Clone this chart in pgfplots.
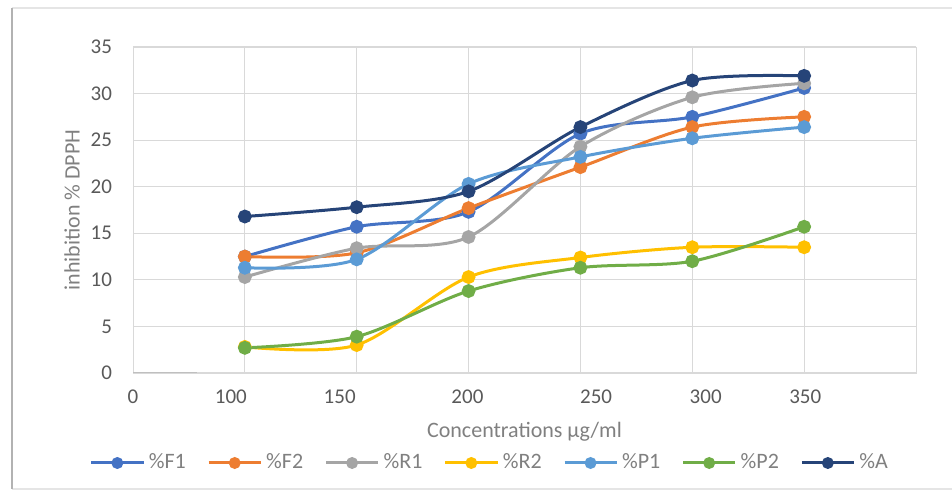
\documentclass[border=0pt]{standalone}
\usepackage{pgfplots}
\pgfplotsset{compat=1.18}
\usepackage{fontspec}
\setmainfont{Carlito}
\definecolor{cF1}{HTML}{4472C4}
\definecolor{cF2}{HTML}{ED7D31}
\definecolor{cR1}{HTML}{A5A5A5}
\definecolor{cR2}{HTML}{FFC000}
\definecolor{cP1}{HTML}{5B9BD5}
\definecolor{cP2}{HTML}{70AD47}
\definecolor{cA}{HTML}{264478}
\definecolor{gridc}{HTML}{D9D9D9}
\definecolor{tickc}{HTML}{595959}
\definecolor{labc}{HTML}{808080}
\begin{document}
\begin{tikzpicture}[x=1pt,y=1pt]
\useasboundingbox (0,0) rectangle (476,245.5);
% chart frame
\draw[color=black!10, line width=0.6pt] (6,1) -- (476,1);
\draw[color=black!10, line width=0.6pt] (6,241.5) -- (476,241.5);
\draw[color=black!30, line width=1.2pt] (6,1) -- (6,241.5);
\begin{axis}[
  at={(66.5pt,59pt)}, anchor=south west,
  width=391.5pt, height=163pt, scale only axis,
  xmin=0, xmax=7, ymin=0, ymax=35,
  axis line style={gridc},
  ytick={0,5,...,35},
  ymajorgrids, grid style={gridc, line width=0.6pt},
  xtick={0,0.875,1.848,2.99,4.14,5.12,6.01},
  xticklabels={0,100,150,200,250,300,350},
  extra x ticks={1,2,3,4,5,6},
  extra x tick labels={},
  extra x tick style={xmajorgrids=true, major tick length=0pt},
  major tick length=0pt,
  tick style={draw=none},
  /pgf/number format/assume math mode=true,
  ticklabel style={font=\fontsize{10.5}{12}\selectfont, text=tickc},
  xticklabel style={anchor=center, yshift=-12pt},
  yticklabel style={anchor=east, xshift=-7pt},
  xlabel={Concentrations µg/ml},
  ylabel={inhibition \% DPPH},
  label style={font=\fontsize{11}{13}\selectfont, text=labc},
  xlabel style={at={(axis description cs:0.5,0)}, anchor=center, yshift=-29.5pt},
  ylabel style={at={(axis description cs:0,0.5)}, anchor=center, rotate=0, yshift=30.5pt},
  legend columns=7,
  legend style={at={(axis description cs:0.457,0)}, anchor=center, yshift=-45pt,
    draw=none, fill=none, font=\fontsize{11}{13}\selectfont, text=labc,
    /tikz/every even column/.append style={column sep=8.7pt}},
  legend image code/.code={\draw[#1, mark size=2.2pt, mark repeat=2, mark phase=2] plot coordinates {(0pt,0pt) (13pt,0pt) (26pt,0pt)};},
  every axis plot/.append style={line width=1.5pt, smooth, tension=0.5, mark=*, mark size=2.7pt},
]
\addplot[cF1, mark options={fill=cF1, draw=cF1}] coordinates {(1,12.5) (2,15.7) (3,17.3) (4,25.7) (5,27.5) (6,30.6)};
\addlegendentry{\%F1}
\addplot[cF2, mark options={fill=cF2, draw=cF2}] coordinates {(1,12.5) (2,12.9) (3,17.7) (4,22.1) (5,26.4) (6,27.5)};
\addlegendentry{\%F2}
\addplot[cR1, mark options={fill=cR1, draw=cR1}] coordinates {(1,10.3) (2,13.4) (3,14.6) (4,24.3) (5,29.6) (6,31.1)};
\addlegendentry{\%R1}
\addplot[cR2, mark options={fill=cR2, draw=cR2}] coordinates {(1,2.8) (2,3.0) (3,10.3) (4,12.4) (5,13.5) (6,13.5)};
\addlegendentry{\%R2}
\addplot[cP1, mark options={fill=cP1, draw=cP1}] coordinates {(1,11.3) (2,12.2) (3,20.3) (4,23.2) (5,25.2) (6,26.4)};
\addlegendentry{\%P1}
\addplot[cP2, mark options={fill=cP2, draw=cP2}] coordinates {(1,2.7) (2,3.9) (3,8.8) (4,11.3) (5,12.0) (6,15.7)};
\addlegendentry{\%P2}
\addplot[cA, mark options={fill=cA, draw=cA}] coordinates {(1,16.8) (2,17.8) (3,19.5) (4,26.4) (5,31.4) (6,31.9)};
\addlegendentry{\%A}
\draw[black!25, line width=0.8pt] (axis cs:0,0) -- (axis cs:0.57,0);
\end{axis}
\end{tikzpicture}
\end{document}
